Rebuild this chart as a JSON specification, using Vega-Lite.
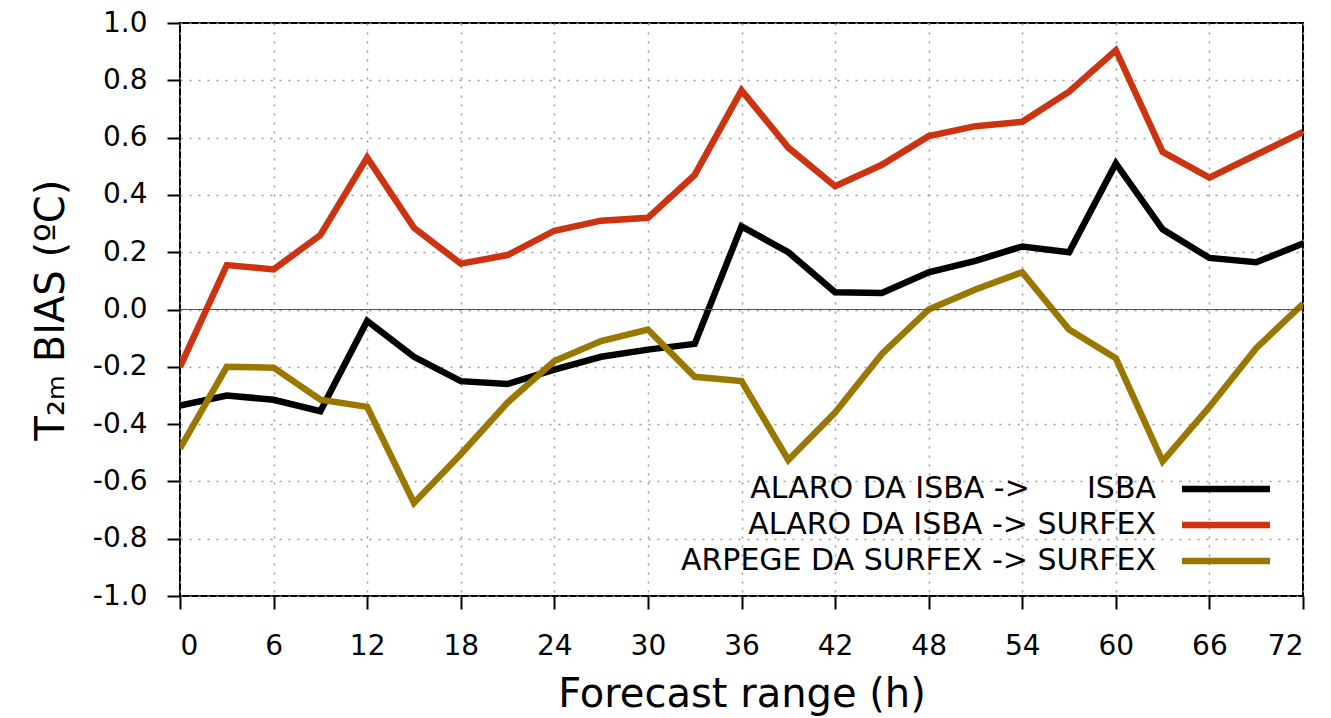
{
  "$schema": "https://vega.github.io/schema/vega-lite/v6.json",
  "width": 1123,
  "height": 573,
  "autosize": {"type": "none"},
  "padding": {"left": 180, "top": 23, "right": 28, "bottom": 122},
  "background": "white",
  "config": {
    "font": "DejaVu Sans",
    "view": {"stroke": "black", "strokeWidth": 2},
    "axis": {
      "labelFont": "DejaVu Sans",
      "titleFont": "DejaVu Sans",
      "labelFontSize": 28,
      "labelColor": "black",
      "titleColor": "black",
      "titleFontWeight": "normal",
      "titleFontSize": 40,
      "domain": false,
      "tickColor": "black",
      "tickWidth": 2,
      "tickSize": 13,
      "gridColor": "#999999",
      "gridDash": [2, 7],
      "gridWidth": 1.5,
      "gridOpacity": 1
    }
  },
  "data": {
    "values": [
      {"h": 0, "s": "ALARO DA ISBA ->\u00a0\u00a0\u00a0\u00a0\u00a0\u00a0ISBA", "v": -0.335},
      {"h": 3, "s": "ALARO DA ISBA ->\u00a0\u00a0\u00a0\u00a0\u00a0\u00a0ISBA", "v": -0.30},
      {"h": 6, "s": "ALARO DA ISBA ->\u00a0\u00a0\u00a0\u00a0\u00a0\u00a0ISBA", "v": -0.315},
      {"h": 9, "s": "ALARO DA ISBA ->\u00a0\u00a0\u00a0\u00a0\u00a0\u00a0ISBA", "v": -0.355},
      {"h": 12, "s": "ALARO DA ISBA ->\u00a0\u00a0\u00a0\u00a0\u00a0\u00a0ISBA", "v": -0.04},
      {"h": 15, "s": "ALARO DA ISBA ->\u00a0\u00a0\u00a0\u00a0\u00a0\u00a0ISBA", "v": -0.165},
      {"h": 18, "s": "ALARO DA ISBA ->\u00a0\u00a0\u00a0\u00a0\u00a0\u00a0ISBA", "v": -0.25},
      {"h": 21, "s": "ALARO DA ISBA ->\u00a0\u00a0\u00a0\u00a0\u00a0\u00a0ISBA", "v": -0.26},
      {"h": 24, "s": "ALARO DA ISBA ->\u00a0\u00a0\u00a0\u00a0\u00a0\u00a0ISBA", "v": -0.21},
      {"h": 27, "s": "ALARO DA ISBA ->\u00a0\u00a0\u00a0\u00a0\u00a0\u00a0ISBA", "v": -0.165},
      {"h": 30, "s": "ALARO DA ISBA ->\u00a0\u00a0\u00a0\u00a0\u00a0\u00a0ISBA", "v": -0.14},
      {"h": 33, "s": "ALARO DA ISBA ->\u00a0\u00a0\u00a0\u00a0\u00a0\u00a0ISBA", "v": -0.12},
      {"h": 36, "s": "ALARO DA ISBA ->\u00a0\u00a0\u00a0\u00a0\u00a0\u00a0ISBA", "v": 0.29},
      {"h": 39, "s": "ALARO DA ISBA ->\u00a0\u00a0\u00a0\u00a0\u00a0\u00a0ISBA", "v": 0.20},
      {"h": 42, "s": "ALARO DA ISBA ->\u00a0\u00a0\u00a0\u00a0\u00a0\u00a0ISBA", "v": 0.06},
      {"h": 45, "s": "ALARO DA ISBA ->\u00a0\u00a0\u00a0\u00a0\u00a0\u00a0ISBA", "v": 0.058},
      {"h": 48, "s": "ALARO DA ISBA ->\u00a0\u00a0\u00a0\u00a0\u00a0\u00a0ISBA", "v": 0.13},
      {"h": 51, "s": "ALARO DA ISBA ->\u00a0\u00a0\u00a0\u00a0\u00a0\u00a0ISBA", "v": 0.17},
      {"h": 54, "s": "ALARO DA ISBA ->\u00a0\u00a0\u00a0\u00a0\u00a0\u00a0ISBA", "v": 0.22},
      {"h": 57, "s": "ALARO DA ISBA ->\u00a0\u00a0\u00a0\u00a0\u00a0\u00a0ISBA", "v": 0.20},
      {"h": 60, "s": "ALARO DA ISBA ->\u00a0\u00a0\u00a0\u00a0\u00a0\u00a0ISBA", "v": 0.51},
      {"h": 63, "s": "ALARO DA ISBA ->\u00a0\u00a0\u00a0\u00a0\u00a0\u00a0ISBA", "v": 0.28},
      {"h": 66, "s": "ALARO DA ISBA ->\u00a0\u00a0\u00a0\u00a0\u00a0\u00a0ISBA", "v": 0.18},
      {"h": 69, "s": "ALARO DA ISBA ->\u00a0\u00a0\u00a0\u00a0\u00a0\u00a0ISBA", "v": 0.165},
      {"h": 72, "s": "ALARO DA ISBA ->\u00a0\u00a0\u00a0\u00a0\u00a0\u00a0ISBA", "v": 0.23},
      {"h": 0, "s": "ALARO DA ISBA -> SURFEX", "v": -0.20},
      {"h": 3, "s": "ALARO DA ISBA -> SURFEX", "v": 0.155},
      {"h": 6, "s": "ALARO DA ISBA -> SURFEX", "v": 0.14},
      {"h": 9, "s": "ALARO DA ISBA -> SURFEX", "v": 0.26},
      {"h": 12, "s": "ALARO DA ISBA -> SURFEX", "v": 0.53},
      {"h": 15, "s": "ALARO DA ISBA -> SURFEX", "v": 0.285},
      {"h": 18, "s": "ALARO DA ISBA -> SURFEX", "v": 0.16},
      {"h": 21, "s": "ALARO DA ISBA -> SURFEX", "v": 0.19},
      {"h": 24, "s": "ALARO DA ISBA -> SURFEX", "v": 0.275},
      {"h": 27, "s": "ALARO DA ISBA -> SURFEX", "v": 0.31},
      {"h": 30, "s": "ALARO DA ISBA -> SURFEX", "v": 0.32},
      {"h": 33, "s": "ALARO DA ISBA -> SURFEX", "v": 0.47},
      {"h": 36, "s": "ALARO DA ISBA -> SURFEX", "v": 0.765},
      {"h": 39, "s": "ALARO DA ISBA -> SURFEX", "v": 0.565},
      {"h": 42, "s": "ALARO DA ISBA -> SURFEX", "v": 0.43},
      {"h": 45, "s": "ALARO DA ISBA -> SURFEX", "v": 0.505},
      {"h": 48, "s": "ALARO DA ISBA -> SURFEX", "v": 0.605},
      {"h": 51, "s": "ALARO DA ISBA -> SURFEX", "v": 0.64},
      {"h": 54, "s": "ALARO DA ISBA -> SURFEX", "v": 0.655},
      {"h": 57, "s": "ALARO DA ISBA -> SURFEX", "v": 0.76},
      {"h": 60, "s": "ALARO DA ISBA -> SURFEX", "v": 0.905},
      {"h": 63, "s": "ALARO DA ISBA -> SURFEX", "v": 0.55},
      {"h": 66, "s": "ALARO DA ISBA -> SURFEX", "v": 0.46},
      {"h": 69, "s": "ALARO DA ISBA -> SURFEX", "v": 0.54},
      {"h": 72, "s": "ALARO DA ISBA -> SURFEX", "v": 0.62},
      {"h": 0, "s": "ARPEGE DA SURFEX -> SURFEX", "v": -0.485},
      {"h": 3, "s": "ARPEGE DA SURFEX -> SURFEX", "v": -0.20},
      {"h": 6, "s": "ARPEGE DA SURFEX -> SURFEX", "v": -0.203},
      {"h": 9, "s": "ARPEGE DA SURFEX -> SURFEX", "v": -0.315},
      {"h": 12, "s": "ARPEGE DA SURFEX -> SURFEX", "v": -0.34},
      {"h": 15, "s": "ARPEGE DA SURFEX -> SURFEX", "v": -0.675},
      {"h": 18, "s": "ARPEGE DA SURFEX -> SURFEX", "v": -0.505},
      {"h": 21, "s": "ARPEGE DA SURFEX -> SURFEX", "v": -0.325},
      {"h": 24, "s": "ARPEGE DA SURFEX -> SURFEX", "v": -0.18},
      {"h": 27, "s": "ARPEGE DA SURFEX -> SURFEX", "v": -0.11},
      {"h": 30, "s": "ARPEGE DA SURFEX -> SURFEX", "v": -0.07},
      {"h": 33, "s": "ARPEGE DA SURFEX -> SURFEX", "v": -0.235},
      {"h": 36, "s": "ARPEGE DA SURFEX -> SURFEX", "v": -0.25},
      {"h": 39, "s": "ARPEGE DA SURFEX -> SURFEX", "v": -0.525},
      {"h": 42, "s": "ARPEGE DA SURFEX -> SURFEX", "v": -0.36},
      {"h": 45, "s": "ARPEGE DA SURFEX -> SURFEX", "v": -0.155},
      {"h": 48, "s": "ARPEGE DA SURFEX -> SURFEX", "v": 0.0},
      {"h": 51, "s": "ARPEGE DA SURFEX -> SURFEX", "v": 0.07},
      {"h": 54, "s": "ARPEGE DA SURFEX -> SURFEX", "v": 0.13},
      {"h": 57, "s": "ARPEGE DA SURFEX -> SURFEX", "v": -0.07},
      {"h": 60, "s": "ARPEGE DA SURFEX -> SURFEX", "v": -0.17},
      {"h": 63, "s": "ARPEGE DA SURFEX -> SURFEX", "v": -0.53},
      {"h": 66, "s": "ARPEGE DA SURFEX -> SURFEX", "v": -0.34},
      {"h": 69, "s": "ARPEGE DA SURFEX -> SURFEX", "v": -0.135},
      {"h": 72, "s": "ARPEGE DA SURFEX -> SURFEX", "v": 0.02}
    ]
  },
  "layer": [
    {
      "mark": {"type": "line", "strokeWidth": 6.5, "strokeJoin": "miter", "clip": true},
      "encoding": {
        "x": {
          "field": "h", "type": "quantitative",
          "scale": {"domain": [0, 72], "nice": false, "zero": false},
          "axis": {"values": [0, 6, 12, 18, 24, 30, 36, 42, 48, 54, 60, 66, 72], "title": "Forecast range (h)", "labelPadding": 23, "titlePadding": 14, "grid": true}
        },
        "y": {
          "field": "v", "type": "quantitative",
          "scale": {"domain": [-1, 1], "nice": false},
          "axis": {"values": [-1, -0.8, -0.6, -0.4, -0.2, 0, 0.2, 0.4, 0.6, 0.8, 1], "labelExpr": "replace(format(datum.value, '.1f'), '\u2212', '-')", "title": "T\u2082\u2098 BIAS (\u00baC)", "labelPadding": 20, "titlePadding": 21, "grid": true}
        },
        "color": {
          "field": "s", "type": "nominal",
          "scale": {
            "domain": ["ALARO DA ISBA ->\u00a0\u00a0\u00a0\u00a0\u00a0\u00a0ISBA", "ALARO DA ISBA -> SURFEX", "ARPEGE DA SURFEX -> SURFEX"],
            "range": ["#000000", "#cc3311", "#997700"]
          },
          "legend": {
            "title": null,
            "orient": "bottom-right",
            "offset": 20,
            "symbolType": "M-4,0H4",
            "symbolSize": 484,
            "symbolStrokeWidth": 6.5,
            "labelFontSize": 30,
            "labelFont": "DejaVu Sans",
            "labelColor": "black",
            "labelAlign": "right",
            "labelOffset": -85,
            "labelLimit": 800,
            "rowPadding": 6
          }
        }
      }
    },
    {
      "data": {"values": [{"z": 0}]},
      "mark": {"type": "rule", "color": "#555555", "strokeWidth": 1.2},
      "encoding": {"y": {"field": "z", "type": "quantitative"}}
    }
  ]
}
